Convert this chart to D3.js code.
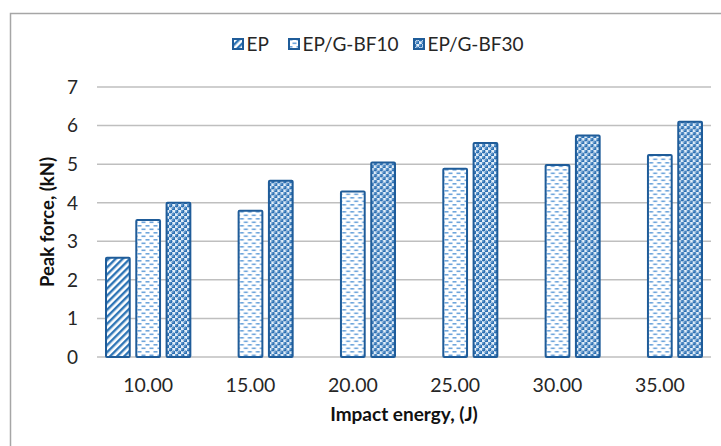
<!DOCTYPE html>
<html>
<head>
<meta charset="utf-8">
<script src="https://cdn.jsdelivr.net/npm/d3@7"></script>
<style>
  html, body { margin: 0; padding: 0; background: #fff; }
  svg { display: block; font-family: Lato, "Noto Sans", sans-serif; }
</style>
</head>
<body>
<svg id="chart" width="721" height="446"></svg>
<script>
// data
const categories = ["10.00", "15.00", "20.00", "25.00", "30.00", "35.00"];
const seriesNames = ["EP", "EP/G-BF10", "EP/G-BF30"];
const epValues   = [2.57, null, null, null, null, null];
const bf10Values = [3.55, 3.79, 4.29, 4.88, 4.98, 5.24];
const bf30Values = [4.00, 4.57, 5.04, 5.55, 5.74, 6.10];
const yTicks = [0, 1, 2, 3, 4, 5, 6, 7];

const values = [epValues, bf10Values, bf30Values];
const patternIds = ["patEP", "patBF10", "patBF30"];

const svg = d3.select("#chart");
const W = 721, H = 446;
const m = { left: 97, right: 10, top: 87, bottom: 89 };
const border = "#1f5c99";
const textCol = "#262626";

// outer frame
svg.append("rect")
   .attr("x", 10.5).attr("y", 13.5)
   .attr("width", W + 10).attr("height", H + 10)
   .attr("fill", "none").attr("stroke", "#a6a6a6").attr("stroke-width", 1.5);

// patterns
const defs = svg.append("defs");

let p = defs.append("pattern").attr("id", "patEP")
   .attr("patternUnits", "userSpaceOnUse").attr("width", 5).attr("height", 5)
   .attr("patternTransform", "rotate(45)");
p.append("rect").attr("width", 5).attr("height", 5).attr("fill", "#fff");
p.append("rect").attr("x", 0).attr("y", 0).attr("width", 2.4).attr("height", 5).attr("fill", "#2e75b6");

p = defs.append("pattern").attr("id", "patBF10")
   .attr("patternUnits", "userSpaceOnUse").attr("width", 8).attr("height", 7);
p.append("rect").attr("width", 8).attr("height", 7).attr("fill", "#fff");
p.append("rect").attr("x", 0.5).attr("y", 1).attr("width", 4).attr("height", 1.6).attr("fill", "#6fa6dc");
p.append("rect").attr("x", 4.5).attr("y", 4.5).attr("width", 4).attr("height", 1.6).attr("fill", "#6fa6dc");
p.append("rect").attr("x", -3.5).attr("y", 4.5).attr("width", 4).attr("height", 1.6).attr("fill", "#6fa6dc");

p = defs.append("pattern").attr("id", "patBF30")
   .attr("patternUnits", "userSpaceOnUse").attr("width", 6).attr("height", 6);
p.append("rect").attr("width", 6).attr("height", 6).attr("fill", "#e2eef9");
[[1.5, 1.5], [4.5, 4.5]].forEach(([cx, cy]) => {
  p.append("circle").attr("cx", cx).attr("cy", cy).attr("r", 1.9).attr("fill", "#2a6fb3");
  p.append("circle").attr("cx", cx - 0.6).attr("cy", cy - 0.6).attr("r", 0.6).attr("fill", "#d8e8f7");
});

// scales
const x0 = d3.scaleBand().domain(categories).range([m.left, W - m.right]).padding(0);
const x1 = d3.scaleBand().domain(seriesNames).range([8, x0.bandwidth() - 8]).paddingInner(0.15);
const y = d3.scaleLinear().domain([0, 7]).range([H - m.bottom, m.top]);

// gridlines
svg.append("g")
   .selectAll("line")
   .data(yTicks)
   .join("line")
     .attr("x1", m.left).attr("x2", W - m.right)
     .attr("y1", d => y(d)).attr("y2", d => y(d))
     .attr("stroke", "#bfbfbf").attr("stroke-width", 1.5);

// y tick labels
svg.append("g")
   .selectAll("text")
   .data(yTicks)
   .join("text")
     .attr("x", 78).attr("y", d => y(d))
     .attr("dy", "0.36em")
     .attr("text-anchor", "end")
     .attr("font-size", 19).attr("fill", textCol)
     .text(d => d);

// bars
const groups = svg.append("g")
   .selectAll("g")
   .data(categories)
   .join("g")
     .attr("transform", d => `translate(${x0(d)},0)`);

groups.selectAll("rect")
   .data((d, i) => seriesNames.map((s, k) => ({ s, k, v: values[k][i] })).filter(e => e.v != null))
   .join("rect")
     .attr("x", e => x1(e.s) + 1)
     .attr("y", e => y(e.v))
     .attr("width", x1.bandwidth() - 2)
     .attr("height", e => y(0) - y(e.v))
     .attr("rx", 1)
     .attr("fill", e => `url(#${patternIds[e.k]})`)
     .attr("stroke", border).attr("stroke-width", 2);

// x tick labels
svg.append("g")
   .selectAll("text")
   .data(categories)
   .join("text")
     .attr("x", d => x0(d) + x0.bandwidth() / 2)
     .attr("y", 392)
     .attr("text-anchor", "middle")
     .attr("font-size", 19.5).attr("fill", textCol)
     .text(d => d);

// axis titles
svg.append("text")
   .attr("x", (m.left + W - m.right) / 2).attr("y", 421)
   .attr("text-anchor", "middle")
   .attr("font-size", 19).attr("font-weight", "bold").attr("fill", "#111")
   .text("Impact energy, (J)");

svg.append("text")
   .attr("transform", `translate(54,${(y(0) + y(7)) / 2}) rotate(-90)`)
   .attr("text-anchor", "middle")
   .attr("font-size", 18.5).attr("font-weight", "bold").attr("fill", "#111")
   .text("Peak force, (kN)");

// legend
const legendX = [232, 288, 413];
const legend = svg.append("g")
   .selectAll("g")
   .data(seriesNames)
   .join("g")
     .attr("transform", (d, i) => `translate(${legendX[i]},38)`);

legend.append("rect")
   .attr("x", 1).attr("y", 1).attr("width", 10).attr("height", 10)
   .attr("fill", (d, i) => `url(#${patternIds[i]})`)
   .attr("stroke", border).attr("stroke-width", 2);

legend.append("text")
   .attr("x", 14.5).attr("y", 6.5).attr("dy", "0.36em")
   .attr("font-size", 19).attr("fill", textCol)
   .text(d => d);
</script>
</body>
</html>
